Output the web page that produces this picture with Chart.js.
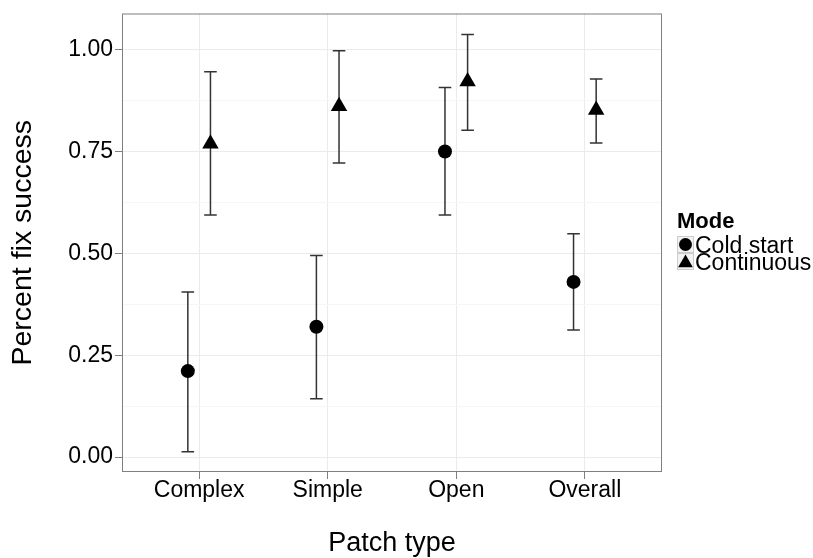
<!DOCTYPE html>
<html>
<head>
<meta charset="utf-8">
<script src="https://cdn.jsdelivr.net/npm/chart.js@4"></script>
<style>
  html, body { margin: 0; padding: 0; background: #fff; }
  #wrap { width: 813px; height: 558px; }
</style>
</head>
<body>
<div id="wrap"><canvas id="chart" width="813" height="558"></canvas></div>
<script>
// categories on the x axis
var categories = ["Complex", "Simple", "Open", "Overall"];
var seriesNames = ["Cold start", "Continuous"];
var legendTitle = "Mode";

// Cold start: mean and interval ends
var coldMean = [0.211, 0.320, 0.750, 0.430];
var coldLow  = [0.013, 0.143, 0.594, 0.312];
var coldHigh = [0.405, 0.495, 0.907, 0.548];

// Continuous: mean and interval ends
var contMean = [0.769, 0.861, 0.922, 0.852];
var contLow  = [0.594, 0.722, 0.802, 0.771];
var contHigh = [0.946, 0.997, 1.037, 0.928];

// y ticks (major labelled, minor only as grid)
var yMajor = [0, 0.25, 0.5, 0.75, 1];
var yMajorLabels = ["0.00", "0.25", "0.50", "0.75", "1.00"];
var yMinor = [0.125, 0.375, 0.625, 0.875];

var dodge = 0.088;      // half of the dodge width, in category units
var capHalf = 0.049;    // half width of error bar caps, category units
var FONT = "'Liberation Sans', Arial, sans-serif";

function makePoints(means, lows, highs, shift) {
  return means.map(function (m, i) {
    return { x: i + 1 + shift, y: m, lo: lows[i], hi: highs[i] };
  });
}

// error bars drawn under the points
var errorBars = {
  id: "errorBars",
  beforeDatasetsDraw: function (chart) {
    var ctx = chart.ctx, xs = chart.scales.x, ys = chart.scales.y;
    ctx.save();
    ctx.strokeStyle = "#333333";
    ctx.lineWidth = 1.5;
    chart.data.datasets.forEach(function (ds) {
      ds.data.forEach(function (p) {
        var x = xs.getPixelForValue(p.x);
        var x0 = xs.getPixelForValue(p.x - capHalf);
        var x1 = xs.getPixelForValue(p.x + capHalf);
        var yl = ys.getPixelForValue(p.lo);
        var yh = ys.getPixelForValue(p.hi);
        ctx.beginPath();
        ctx.moveTo(x, yl); ctx.lineTo(x, yh);
        ctx.moveTo(x0, yl); ctx.lineTo(x1, yl);
        ctx.moveTo(x0, yh); ctx.lineTo(x1, yh);
        ctx.stroke();
      });
    });
    ctx.restore();
  }
};

// panel border + legend on the right
var panelAndLegend = {
  id: "panelAndLegend",
  afterDraw: function (chart) {
    var ctx = chart.ctx, a = chart.chartArea;
    ctx.save();
    ctx.strokeStyle = "#7f7f7f";
    ctx.lineWidth = 1;
    ctx.strokeRect(a.left + 0.5, a.top + 0.5, a.right - a.left - 1, a.bottom - a.top - 1);

    var lx = a.right + 15, ly = 228;
    ctx.fillStyle = "#000";
    ctx.textBaseline = "alphabetic";
    ctx.textAlign = "left";
    ctx.font = "bold 22px " + FONT;
    ctx.fillText(legendTitle, lx, ly);

    var keySize = 17;
    chart.data.datasets.forEach(function (ds, i) {
      var top = ly + 8 + i * keySize;
      ctx.fillStyle = "#f2f2f2";
      ctx.fillRect(lx, top, keySize, keySize);
      ctx.strokeStyle = "#cccccc";
      ctx.lineWidth = 1;
      ctx.strokeRect(lx + 0.5, top + 0.5, keySize - 1, keySize - 1);
      ctx.fillStyle = "#000";
      ctx.strokeStyle = "#000";
      Chart.helpers.drawPoint(ctx, {
        pointStyle: ds.pointStyle,
        radius: ds.pointStyle === "triangle" ? 8.5 : 6.5,
        borderWidth: 0,
        rotation: 0
      }, lx + keySize / 2, top + keySize / 2 + (ds.pointStyle === "triangle" ? 1.5 : 0));
      ctx.fillStyle = "#000";
      ctx.font = "23px " + FONT;
      ctx.fillText(ds.label, lx + keySize + 1, top + keySize);
    });
    ctx.restore();
  }
};

var isMajor = function (v) {
  return yMajor.indexOf(v) !== -1;
};

new Chart(document.getElementById("chart"), {
  type: "scatter",
  data: {
    datasets: [
      {
        label: seriesNames[0],
        data: makePoints(coldMean, coldLow, coldHigh, -dodge),
        pointStyle: "circle",
        pointRadius: 7,
        pointHoverRadius: 7,
        backgroundColor: "#000",
        borderColor: "#000",
        borderWidth: 0
      },
      {
        label: seriesNames[1],
        data: makePoints(contMean, contLow, contHigh, dodge),
        pointStyle: "triangle",
        pointRadius: 9.5,
        pointHoverRadius: 9.5,
        backgroundColor: "#000",
        borderColor: "#000",
        borderWidth: 0
      }
    ]
  },
  options: {
    responsive: false,
    animation: false,
    events: [],
    layout: { padding: { top: 11, right: 151, left: 0, bottom: 0 } },
    plugins: {
      legend: { display: false },
      tooltip: { enabled: false }
    },
    scales: {
      x: {
        type: "linear",
        min: 0.4,
        max: 4.6,
        afterBuildTicks: function (scale) {
          scale.ticks = categories.map(function (c, i) { return { value: i + 1 }; });
        },
        afterFit: function (scale) { scale.height = 86; },
        ticks: {
          autoSkip: false,
          maxRotation: 0,
          padding: 0,
          color: "#000",
          font: { family: FONT, size: 23, lineHeight: 1 },
          callback: function (v) { return categories[Math.round(v) - 1]; }
        },
        grid: {
          color: "#ebebeb",
          lineWidth: 1,
          tickLength: 7,
          tickColor: "#7f7f7f"
        },
        border: { display: false },
        title: {
          display: true,
          text: "Patch type",
          color: "#000",
          font: { family: FONT, size: 27, lineHeight: 1 },
          padding: { top: 0, bottom: 1 }
        }
      },
      y: {
        type: "linear",
        min: -0.0366,
        max: 1.0887,
        afterBuildTicks: function (scale) {
          scale.ticks = yMajor.concat(yMinor).sort(function (a, b) { return a - b; })
            .map(function (v) { return { value: v }; });
        },
        afterFit: function (scale) { scale.width = 122; },
        ticks: {
          autoSkip: false,
          padding: 2,
          color: "#000",
          font: { family: FONT, size: 23, lineHeight: 1 },
          callback: function (v) {
            var i = yMajor.indexOf(v);
            return i === -1 ? "" : yMajorLabels[i];
          }
        },
        grid: {
          color: function (c) { return isMajor(c.tick.value) ? "#ebebeb" : "#f6f6f6"; },
          lineWidth: 1,
          tickLength: 7,
          tickColor: function (c) { return isMajor(c.tick.value) ? "#7f7f7f" : "rgba(0,0,0,0)"; }
        },
        border: { display: false },
        title: {
          display: true,
          text: "Percent fix success",
          color: "#000",
          font: { family: FONT, size: 28.5, lineHeight: 1 },
          padding: { top: 9, bottom: 0 }
        }
      }
    }
  },
  plugins: [errorBars, panelAndLegend]
});
</script>
</body>
</html>
